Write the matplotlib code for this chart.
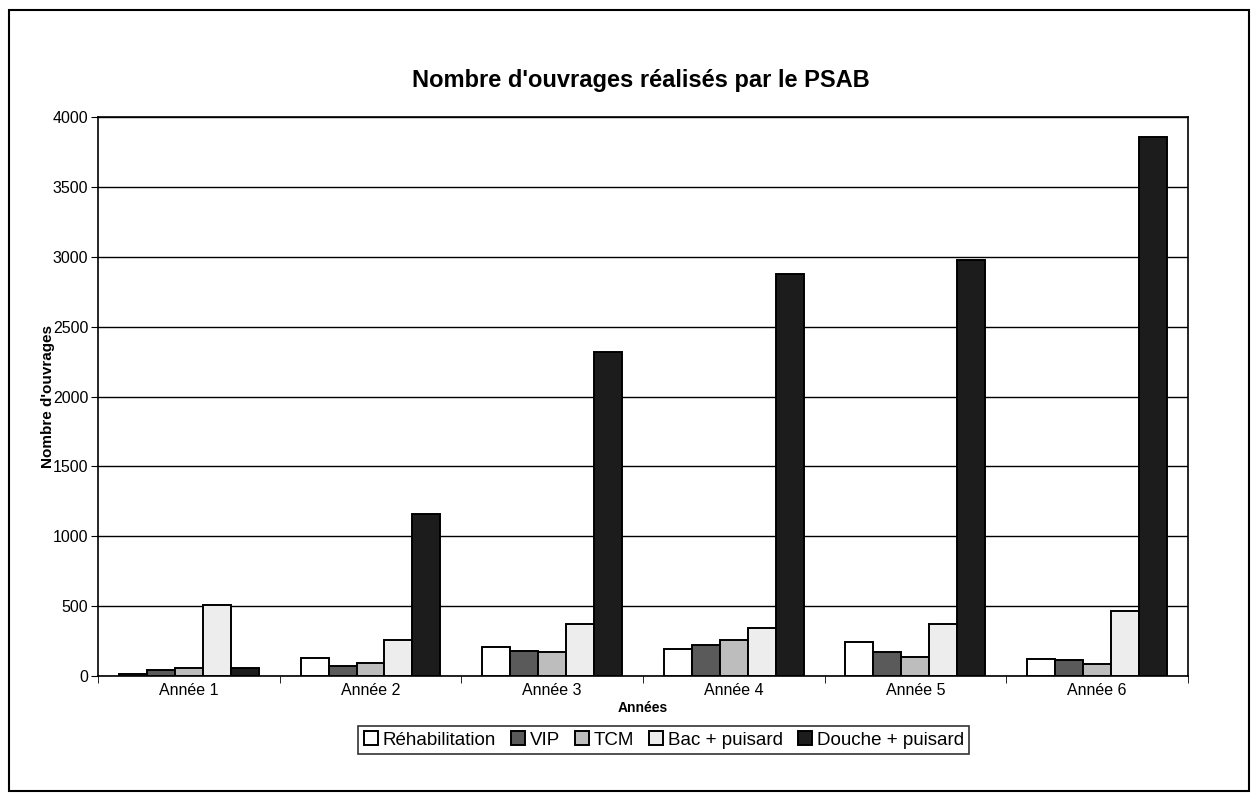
import matplotlib
matplotlib.use('Agg')
import matplotlib.pyplot as plt
import matplotlib.patches as patches
import numpy as np

plt.rcParams['font.family'] = ['Liberation Sans', 'DejaVu Sans']

# data
annees = ['Année 1', 'Année 2', 'Année 3', 'Année 4', 'Année 5', 'Année 6']
series = ['Réhabilitation', 'VIP', 'TCM', 'Bac + puisard', 'Douche + puisard']
rehabilitation = [15, 130, 210, 195, 240, 120]
vip = [40, 75, 180, 220, 175, 115]
tcm = [55, 95, 175, 255, 135, 85]
bac_puisard = [505, 255, 370, 340, 375, 465]
douche_puisard = [55, 1160, 2320, 2880, 2975, 3855]

values = [rehabilitation, vip, tcm, bac_puisard, douche_puisard]
colors = ['#ffffff', '#5a5a5a', '#bdbdbd', '#ededed', '#1c1c1c']

fig = plt.figure(figsize=(12.57, 7.94), dpi=100)
ax = fig.add_axes([0.078, 0.1486, 0.867, 0.704])

# outer frame around the whole chart
fig.patches.append(patches.Rectangle((0.007, 0.004), 0.987, 0.984, transform=fig.transFigure,
                                     fill=False, edgecolor='black', linewidth=1.5))

x = np.arange(len(annees))
w = 0.154
for i in range(len(series)):
	ax.bar(x + (i - 2) * w, values[i], w, color=colors[i], edgecolor='black',
	       linewidth=1.4, label=series[i], zorder=3)

ax.set_xlim(-0.5, len(annees) - 0.5)
ax.set_ylim(0, 4000)
ax.set_yticks(range(0, 4001, 500))
ax.set_xticks(x)
ax.set_xticklabels(annees, fontsize=11.5)
ax.set_xticks(np.arange(-0.5, len(annees), 1), minor=True)
ax.tick_params(axis='x', which='major', length=0, pad=5)
ax.tick_params(axis='x', which='minor', length=5, direction='out')
ax.tick_params(axis='y', labelsize=11.5, length=5, direction='out', pad=2)

ax.yaxis.grid(True, color='black', linewidth=1)
ax.set_axisbelow(True)
for s in ax.spines.values():
	s.set_linewidth(1.2)

ax.set_xlabel('Années', fontsize=10, fontweight='bold', labelpad=2)
ax.set_ylabel("Nombre d'ouvrages", fontsize=11, fontweight='bold', labelpad=-2)
fig.text(0.51, 0.899, "Nombre d'ouvrages réalisés par le PSAB", ha='center', va='center',
         fontsize=17, fontweight='bold')

leg = fig.legend(loc='center', bbox_to_anchor=(0.528, 0.068), ncol=5, fontsize=13.5,
                 frameon=True, fancybox=False, edgecolor='black', handlelength=0.75,
                 handleheight=0.75, handletextpad=0.25, columnspacing=0.8, borderpad=0.3)
leg.get_frame().set_linewidth(1.2)

fig.savefig('out.png', dpi=100)
